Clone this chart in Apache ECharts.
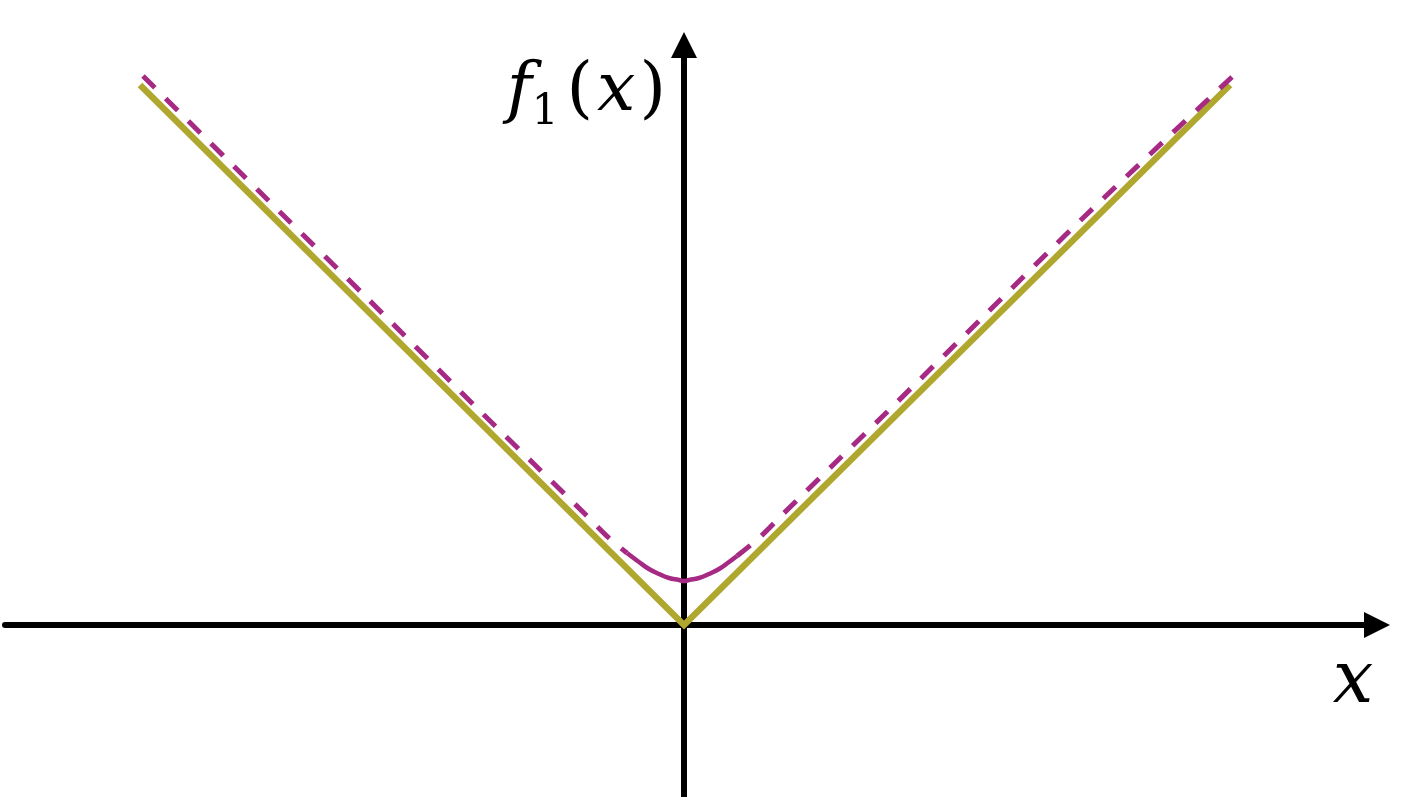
<!DOCTYPE html>
<html>
<head>
    <meta charset="UTF-8">
    <title>f1(x)</title>
    <script src="https://cdn.jsdelivr.net/npm/echarts@6/dist/echarts.min.js"></script>
    <style>
        html, body { margin: 0; padding: 0; background: #fff; }
        #chart { width: 1420px; height: 797px; }
    </style>
</head>
<body>
<div id="chart"></div>
<script>
// |x| : the olive V
var absX = [-5.44, 0, 5.46];
var absY = [5.40, 0, 5.40];
// smoothed curve, dashed outer parts
var leftX = [-5.41, -4.0, -3.2, -2.0, -1.5, -1.0, -0.75, -0.57];
var leftY = [5.49, 4.09, 3.30, 2.10, 1.61, 1.12, 0.87, 0.72];
var midX = [-0.57, -0.45, -0.35, -0.25, -0.15, -0.05, 0, 0.05, 0.15, 0.25, 0.35, 0.45, 0.53];
var midY = [0.72, 0.63, 0.56, 0.51, 0.47, 0.45, 0.44, 0.45, 0.47, 0.51, 0.56, 0.63, 0.69];
var rightX = [0.53, 0.75, 1.0, 1.5, 2.0, 3.0, 4.0, 5.48];
var rightY = [0.69, 0.87, 1.12, 1.61, 2.10, 3.09, 4.08, 5.48];

function pairs(xs, ys) {
    return xs.map(function (x, i) { return [x, ys[i]]; });
}

var olive = '#b0a72f';
var magenta = '#a62a83';
var axisLine = {
    onZero: true,
    symbol: ['none', 'triangle'],
    symbolSize: [26, 26],
    lineStyle: { color: '#000', width: 6 }
};

var chart = echarts.init(document.getElementById('chart'), null, {renderer: 'canvas'});
chart.setOption({
    animation: false,
    grid: { left: 5, right: 43, top: 45, bottom: 0 },
    xAxis: {
        type: 'value', min: -6.79, max: 6.93,
        axisLine: axisLine,
        axisTick: { show: false }, axisLabel: { show: false }, splitLine: { show: false },
        name: '{i|x}',
        nameLocation: 'end',
        nameGap: -24,
        nameTextStyle: {
            align: 'center', verticalAlign: 'top', padding: [22, 0, 0, 0],
            rich: { i: { fontFamily: 'DejaVu Serif', fontStyle: 'italic', fontSize: 72, color: '#000' } }
        }
    },
    yAxis: {
        type: 'value', min: -1.72, max: 5.8,
        axisLine: axisLine,
        axisTick: { show: false }, axisLabel: { show: false }, splitLine: { show: false },
        name: '{i|f}{s|1}{p|(}{x|x}{p|)}',
        nameLocation: 'end',
        nameGap: -47,
        nameTextStyle: {
            align: 'right', verticalAlign: 'middle', padding: [0, 18, 0, 0],
            rich: {
                i: { fontFamily: 'DejaVu Serif', fontStyle: 'italic', fontSize: 68, color: '#000', lineHeight: 84 },
                x: { fontFamily: 'DejaVu Serif', fontStyle: 'italic', fontSize: 68, color: '#000', lineHeight: 84, padding: [0, 4, 0, 4] },
                s: { fontFamily: 'DejaVu Serif', fontSize: 42, color: '#000', lineHeight: 84, verticalAlign: 'bottom', padding: [0, 8, 0, 0] },
                p: { fontFamily: 'DejaVu Serif', fontSize: 68, color: '#000', lineHeight: 84 }
            }
        }
    },
    series: [
        { type: 'line', data: pairs(absX, absY), symbol: 'none',
          lineStyle: { color: olive, width: 6.5, join: 'miter' } },
        { type: 'line', data: pairs(leftX, leftY), symbol: 'none', smooth: 0.3,
          lineStyle: { color: magenta, width: 5, type: [17, 15], cap: 'butt' } },
        { type: 'line', data: pairs(midX, midY), symbol: 'none', smooth: true,
          lineStyle: { color: magenta, width: 4.5 } },
        { type: 'line', data: pairs(rightX, rightY), symbol: 'none', smooth: 0.3,
          lineStyle: { color: magenta, width: 5, type: [17, 15], cap: 'butt' } }
    ]
});
</script>
</body>
</html>
